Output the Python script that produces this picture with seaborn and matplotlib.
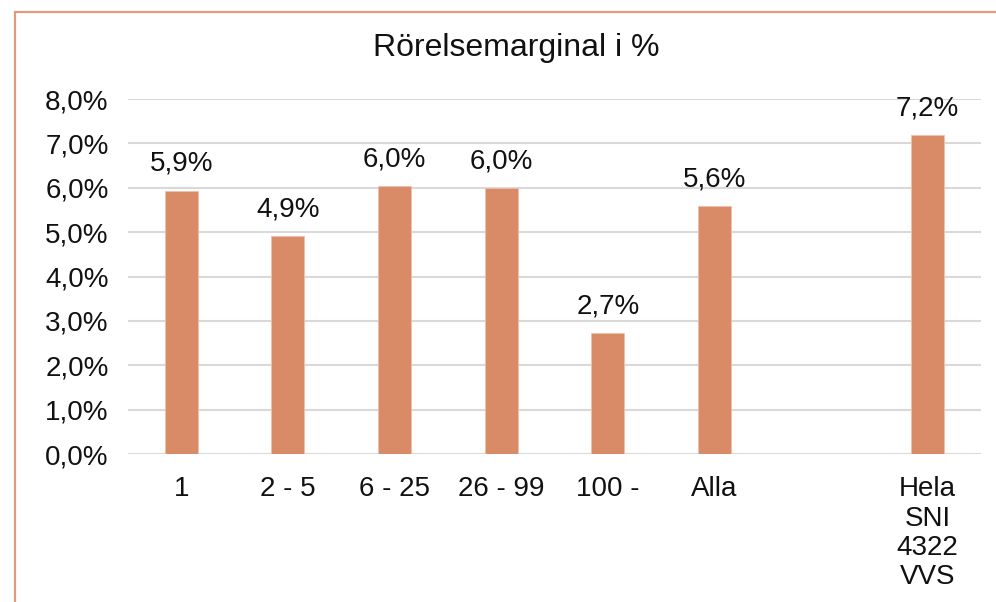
import numpy as np
import pandas as pd
import matplotlib
matplotlib.use("Agg")
import matplotlib.pyplot as plt
from matplotlib.patches import Rectangle
import seaborn as sns

# --- Data ---
categories = ["1", "2 - 5", "6 - 25", "26 - 99", "100 -", "Alla", " ", "Hela\nSNI\n4322\nVVS"]
margin_pct = [5.93, 4.91, 6.04, 5.99, 2.72, 5.59, np.nan, 7.18]
bar_labels = ["5,9%", "4,9%", "6,0%", "6,0%", "2,7%", "5,6%", "", "7,2%"]
y_ticks = [0, 1, 2, 3, 4, 5, 6, 7, 8]
y_tick_labels = ["0,0%", "1,0%", "2,0%", "3,0%", "4,0%", "5,0%", "6,0%", "7,0%", "8,0%"]
title = "Rörelsemarginal i %"

BAR_COLOR = "#D98B67"
GRID_COLOR = "#D9D9D9"
BORDER_COLOR = "#DE9C7C"

sns.set_theme(style="white")
plt.rcParams["font.family"] = ["Liberation Sans", "DejaVu Sans"]

df = pd.DataFrame({"cat": categories, "val": margin_pct})

fig = plt.figure(figsize=(9.96, 6.02), dpi=100)
ax = fig.add_axes([0.1285, 0.2458, 0.8565, 0.5897])

sns.barplot(data=df, x="cat", y="val", order=categories, color=BAR_COLOR,
            saturation=1, width=0.31, edgecolor="#F0C0A8", linewidth=0.6, ax=ax)

# data labels
for i, (v, lab) in enumerate(zip(margin_pct, bar_labels)):
    if np.isnan(v):
        continue
    ax.annotate(lab, (i, v), xytext=(0, 10), textcoords="offset points",
                ha="center", va="bottom", fontsize=20, color="#111111")

ax.set_ylim(0, 8)
ax.set_xlim(-0.5, len(categories) - 0.5)
ax.set_yticks(y_ticks)
ax.set_yticklabels(y_tick_labels, fontsize=20, color="#111111")
ax.tick_params(axis="y", length=0, pad=14)
ax.tick_params(axis="x", length=0, pad=16, labelsize=20, labelcolor="#111111")
for lbl in ax.get_xticklabels():
    lbl.set_linespacing(1.17)
ax.set_xlabel("")
ax.set_ylabel("")
for s in ax.spines.values():
    s.set_visible(False)
ax.grid(True, axis="y", color=GRID_COLOR, linewidth=1.5)
ax.set_axisbelow(True)

fig.text(0.5185, 0.92, title, ha="center", va="center", fontsize=23, color="#111111")

# orange chart-area border (left and top edges visible)
fig.patches.append(Rectangle((15 / 996, -0.1), 1.2, 1.1 - 12 / 602, transform=fig.transFigure,
                             fill=False, edgecolor=BORDER_COLOR, linewidth=1.6, zorder=0))

fig.savefig("out.png", dpi=100)
